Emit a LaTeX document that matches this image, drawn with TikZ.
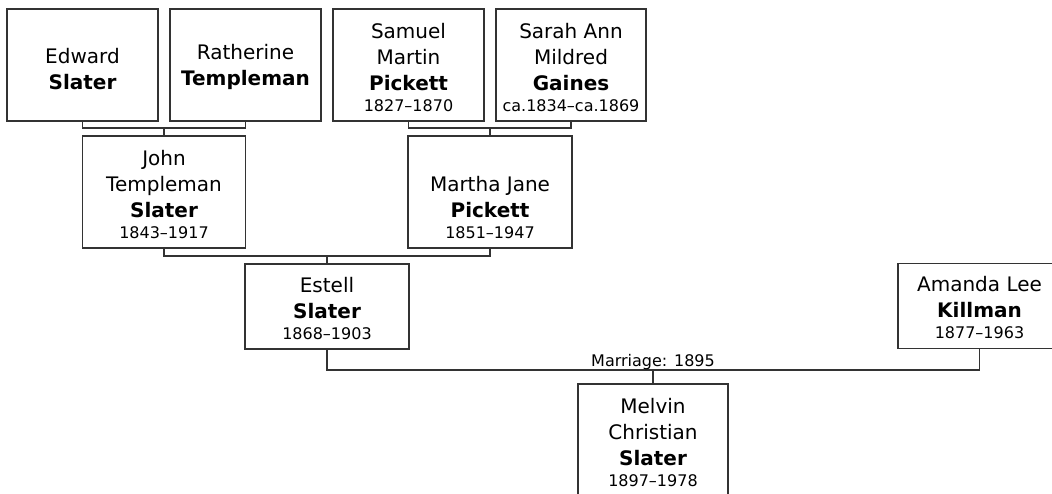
\documentclass[tikz,border=0pt]{standalone}
\usepackage{fontspec}
\setmainfont{DejaVu Sans}
\definecolor{linec}{HTML}{333333}
\tikzset{
  person/.style={draw=linec, line width=1.4pt, fill=white, inner sep=0pt, outer sep=0pt},
  conn/.style={draw=linec, line width=1.4pt},
  smalltext/.style={font=\fontsize{16}{20}\selectfont, inner sep=0pt}
}
% #1 width, #2 height, #3 gap below last baseline, #4 lines
\newcommand{\pcard}[4]{\parbox[c][#2][b]{#1}{\centering\fontsize{20}{26}\selectfont #4\par\vspace*{#3}}}
\newcommand{\yrs}[1]{\\[-5pt]{\fontsize{16}{20}\selectfont #1}}
\begin{document}
\begin{tikzpicture}[x=1pt,y=-1pt]
\useasboundingbox (0,0) rectangle (1052,494);
\clip (0,0) rectangle (1052,494);
\node[person] (edward) at (82.5,65) {\pcard{151pt}{112pt}{31pt}{Edward\\\textbf{Slater}}};
\node[person] (ratherine) at (245.5,65) {\pcard{151pt}{112pt}{31pt}{Ratherine\\\textbf{Templeman}}};
\node[person] (samuel) at (408.5,65) {\pcard{151pt}{112pt}{9.5pt}{Samuel\\Martin\\\textbf{Pickett}\yrs{1827–1870}}};
\node[person] (sarah) at (571,65) {\pcard{150pt}{112pt}{9.5pt}{Sarah Ann\\Mildred\\\textbf{Gaines}\yrs{ca.1834–ca.1869}}};
\node[person] (john) at (164,192) {\pcard{163pt}{112pt}{9.5pt}{John\\Templeman\\\textbf{Slater}\yrs{1843–1917}}};
\node[person] (martha) at (490,192) {\pcard{164pt}{112pt}{9.5pt}{Martha Jane\\\textbf{Pickett}\yrs{1851–1947}}};
\node[person] (estell) at (327,306.5) {\pcard{164pt}{85pt}{9.5pt}{Estell\\\textbf{Slater}\yrs{1868–1903}}};
\node[person] (amanda) at (979.5,306) {\pcard{163pt}{85pt}{9.5pt}{Amanda Lee\\\textbf{Killman}\yrs{1877–1963}}};
\node[person] (melvin) at (653,440) {\pcard{150pt}{112pt}{9.5pt}{Melvin\\Christian\\\textbf{Slater}\yrs{1897–1978}}};
\coordinate (m1) at (164,128);
\coordinate (m2) at (490,128);
\coordinate (m3) at (327,256);
\coordinate (m4) at (653,370);
\draw[conn] (edward.south) |- (m1) -| (ratherine.south);
\draw[conn] (m1) -- (john.north);
\draw[conn] (samuel.south) |- (m2) -| (sarah.south);
\draw[conn] (m2) -- (martha.north);
\draw[conn] (john.south) |- (m3) -| (martha.south);
\draw[conn] (m3) -- (estell.north);
\draw[conn] (estell.south) |- (m4) -| (amanda.south);
\draw[conn] (m4) -- (melvin.north);
\node[smalltext, anchor=base] (mlabel) at (653,366) {Marriage: 1895};
\end{tikzpicture}
\end{document}
